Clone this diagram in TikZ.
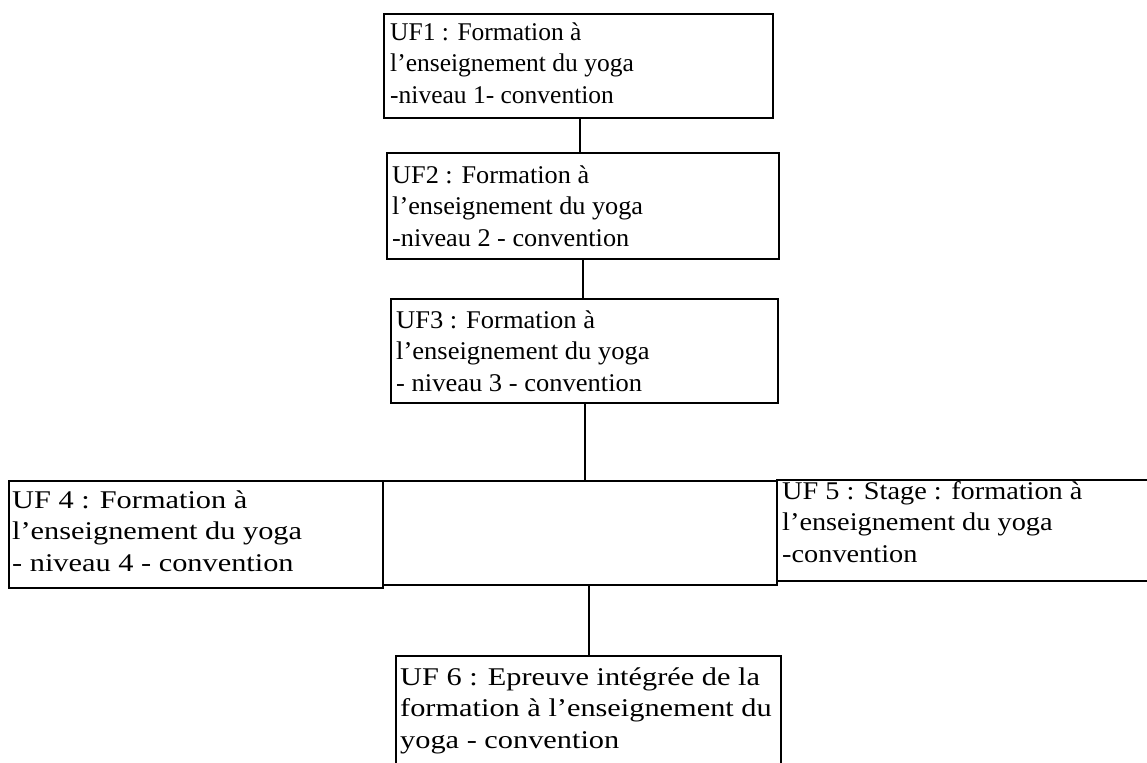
\documentclass[tikz,border=0pt]{standalone}
\usepackage{fontspec}
\setmainfont{Liberation Serif}
\newfontfamily\stretchA[FakeStretch=1.00]{Liberation Serif}
\newfontfamily\stretchB[FakeStretch=1.03]{Liberation Serif}
\newfontfamily\stretchC[FakeStretch=1.04]{Liberation Serif}
\newfontfamily\stretchD[FakeStretch=1.19]{Liberation Serif}
\newfontfamily\stretchE[FakeStretch=1.11]{Liberation Serif}
\newfontfamily\stretchF[FakeStretch=1.19]{Liberation Serif}
\newcommand\boxsize{\fontsize{25.5}{31.5}\selectfont}
\begin{document}
\begin{tikzpicture}[x=1pt,y=-1pt,
  cell/.style={draw, line width=2.2pt, rectangle, inner sep=0pt, anchor=north west},
  lbl/.style={anchor=north west, inner sep=0pt, align=left},
  link/.style={line width=2.2pt}]
\useasboundingbox (0,0) rectangle (1147,762);
% boxes
\node[cell, minimum width=389, minimum height=104] (uf1) at (383,13) {};
\node[cell, minimum width=392, minimum height=106] (uf2) at (386,152) {};
\node[cell, minimum width=387, minimum height=104] (uf3) at (390,298) {};
\node[cell, minimum width=374, minimum height=107] (uf4) at (8,480) {};
\node[cell, minimum width=394, minimum height=104] (mid) at (382,480) {};
\node[cell, minimum width=376, minimum height=101] (uf5) at (776,479) {};
\node[cell, minimum width=385, minimum height=112] (uf6) at (395,655) {};
% texts
\node[lbl, font=\stretchA\boxsize] (t1) at (390,18) {\strut UF1 : Formation à\\l’enseignement du yoga\\-niveau 1- convention};
\node[lbl, font=\stretchB\boxsize] (t2) at (392,161) {\strut UF2 : Formation à\\l’enseignement du yoga\\-niveau 2 - convention};
\node[lbl, font=\stretchC\boxsize] (t3) at (396,306) {\strut UF3 : Formation à\\l’enseignement du yoga\\- niveau 3 - convention};
\node[lbl, font=\stretchD\boxsize] (t4) at (12,486) {\strut UF 4 : Formation à\\l’enseignement du yoga\\- niveau 4 - convention};
\node[lbl, font=\stretchE\boxsize] (t5) at (782,477) {\strut UF 5 : Stage : formation à\\l’enseignement du yoga\\-convention};
\node[lbl, font=\stretchF\boxsize] (t6) at (400,663) {\strut UF 6 : Epreuve intégrée de la\\formation à l’enseignement du\\yoga - convention};
% connectors
\draw[link] ([xshift=1.5pt]uf1.south) -- ([xshift=1.5pt]uf1.south |- uf2.north);
\draw[link] (uf2.south) -- (uf2.south |- uf3.north);
\draw[link] (uf3.south) -- (uf3.south |- mid.north);
\draw[link] (uf6.north |- mid.south) -- (uf6.north);
\end{tikzpicture}
\end{document}
